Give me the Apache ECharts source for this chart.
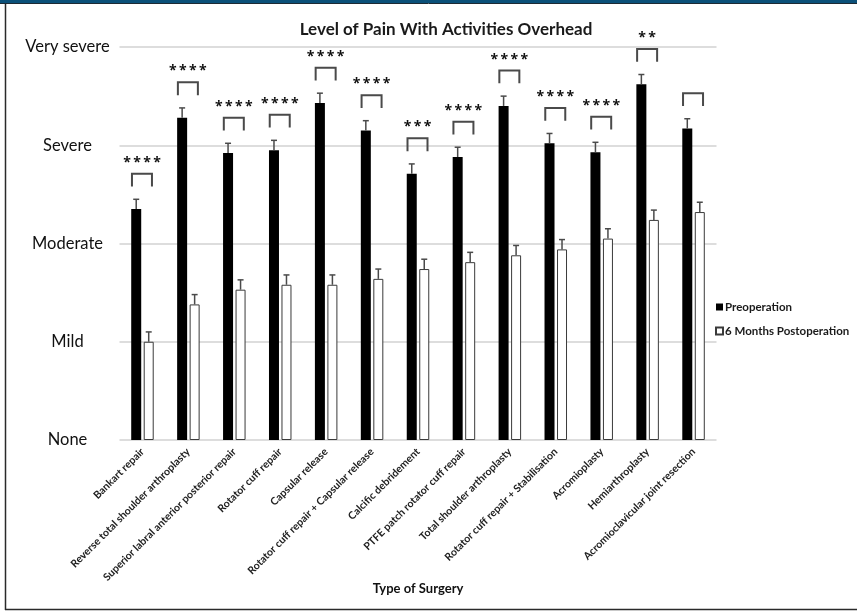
<!DOCTYPE html>
<html>
<head>
<meta charset="utf-8">
<script src="https://cdn.jsdelivr.net/npm/echarts@6/dist/echarts.min.js"></script>
<style>
  html, body { margin: 0; padding: 0; background: #fff; }
  #chart { width: 857px; height: 611px; }
</style>
</head>
<body>
<div id="chart"></div>
<script>
// Surgery types along the x axis
const categories = [
  'Bankart repair',
  'Reverse total shoulder arthroplasty',
  'Superior labral anterior posterior repair',
  'Rotator cuff repair',
  'Capsular release',
  'Rotator cuff repair + Capsular release',
  'Calcific debridement',
  'PTFE patch rotator cuff repair',
  'Total shoulder arthroplasty',
  'Rotator cuff repair + Stabilisation',
  'Acromioplasty',
  'Hemiarthroplasty',
  'Acromioclavicular joint resection'
];

// Pain level scale (0 = None ... 4 = Very severe)
const painLevels = ['None', 'Mild', 'Moderate', 'Severe', 'Very severe'];

// Mean pain scores and their error bars
const preop = [2.35, 3.28, 2.92, 2.95, 3.43, 3.15, 2.71, 2.88, 3.40, 3.02, 2.93, 3.62, 3.17];
const preopErr = [0.10, 0.10, 0.10, 0.10, 0.10, 0.10, 0.10, 0.10, 0.10, 0.10, 0.10, 0.10, 0.10];
const postop = [1.00, 1.38, 1.53, 1.58, 1.58, 1.64, 1.74, 1.81, 1.88, 1.94, 2.05, 2.24, 2.32];
const postopErr = [0.10, 0.10, 0.10, 0.10, 0.10, 0.10, 0.10, 0.10, 0.10, 0.10, 0.10, 0.10, 0.10];

// Significance markers for each pre/post comparison
const significance = ['****', '****', '****', '****', '****', '****', '***', '****', '****', '****', '****', '**', ''];

const BAR_W = 10;
const BAR_OFFSET = 6.25;   // half of bar width + half gap
const GREY = '#4a4a4a';
const STAR_PITCH = 10;

const chart = echarts.init(document.getElementById('chart'), null, { renderer: 'canvas' });

// Error bar: vertical whisker upward from the bar top with a small cap
function errorBarRenderer(values, errs, offset) {
  return function (params, api) {
    const i = api.value(0);
    const top = api.coord([i, values[i] + errs[i]]);
    const base = api.coord([i, values[i]]);
    const x = top[0] + offset;
    return {
      type: 'group',
      children: [
        { type: 'line', shape: { x1: x, y1: base[1], x2: x, y2: top[1] }, style: { stroke: GREY, lineWidth: 1.5 } },
        { type: 'line', shape: { x1: x - 3, y1: top[1], x2: x + 3, y2: top[1] }, style: { stroke: GREY, lineWidth: 1.5 } }
      ]
    };
  };
}

// Bracket with significance stars above each pair of bars
function bracketRenderer(params, api) {
  const i = api.value(0);
  const peak = Math.max(preop[i] + preopErr[i], postop[i] + postopErr[i]);
  const low = api.coord([i, peak + 0.13]);
  const high = api.coord([i, peak + 0.26]);
  const xl = low[0] - 10.5;
  const xr = low[0] + 9.5;
  const children = [
    {
      type: 'polyline',
      shape: { points: [[xl, low[1]], [xl, high[1]], [xr, high[1]], [xr, low[1]]] },
      style: { stroke: GREY, lineWidth: 2, fill: null }
    }
  ];
  const stars = significance[i].split('');
  stars.forEach((s, k) => {
    children.push({
      type: 'text',
      x: low[0] - 0.5 + (k - (stars.length - 1) / 2) * STAR_PITCH,
      y: high[1] - 11,
      style: {
        text: s,
        fill: '#111',
        font: 'bold 14px "Open Sans"',
        textAlign: 'center',
        textVerticalAlign: 'middle'
      }
    });
  });
  return { type: 'group', children: children };
}

const idxData = categories.map((c, i) => [i]);

const option = {
  animation: false,
  backgroundColor: '#fff',
  title: {
    text: 'Level of Pain With Activities Overhead',
    left: 441,
    top: 16,
    textAlign: 'center',
    textStyle: { fontFamily: 'Lato', fontWeight: 'bold', fontSize: 17, color: '#1a1a1a' }
  },
  legend: {
    orient: 'vertical',
    left: 710,
    top: 296,
    itemWidth: 7,
    itemHeight: 7,
    itemGap: 12,
    icon: 'rect',
    data: ['Preoperation', '6 Months Postoperation'],
    textStyle: { fontFamily: 'Lato', fontWeight: 'bold', fontSize: 11.5, color: '#1a1a1a', padding: [0, 0, 0, -3] }
  },
  grid: { left: 119.5, top: 47, width: 597, height: 393, containLabel: false },
  xAxis: {
    type: 'category',
    data: categories,
    name: 'Type of Surgery',
    nameLocation: 'middle',
    nameGap: 142,
    nameMoveOverlap: false,
    nameTextStyle: { fontFamily: 'Lato', fontWeight: 'bold', fontSize: 13, color: '#111' },
    axisLine: { show: false },
    axisTick: { show: false },
    axisLabel: {
      interval: 0,
      rotate: 45,
      margin: 10,
      fontFamily: 'Lato',
      fontWeight: 'bold',
      fontSize: 10.5,
      color: '#222'
    }
  },
  yAxis: {
    type: 'value',
    min: 0,
    max: 4,
    interval: 1,
    axisLine: { show: false },
    axisTick: { show: false },
    splitLine: { lineStyle: { color: '#d2d2d2', width: 1.5 } },
    axisLabel: {
      formatter: v => painLevels[v] || '',
      align: 'center',
      margin: 52,
      fontFamily: 'Lato',
      fontSize: 16.5,
      color: '#111'
    }
  },
  series: [
    {
      name: 'Preoperation',
      type: 'bar',
      data: preop,
      barWidth: BAR_W,
      barGap: '25%',
      itemStyle: { color: '#000', borderColor: '#000', borderWidth: 0 }
    },
    {
      name: '6 Months Postoperation',
      type: 'bar',
      data: postop,
      barWidth: BAR_W,
      barGap: '25%',
      itemStyle: { color: '#fff', borderColor: '#3a3a3a', borderWidth: 1 }
    },
    {
      type: 'custom',
      data: idxData,
      renderItem: errorBarRenderer(preop, preopErr, -BAR_OFFSET),
      z: 5,
      silent: true
    },
    {
      type: 'custom',
      data: idxData,
      renderItem: errorBarRenderer(postop, postopErr, BAR_OFFSET),
      z: 5,
      silent: true
    },
    {
      type: 'custom',
      data: idxData,
      renderItem: bracketRenderer,
      z: 5,
      silent: true
    }
  ],
  graphic: [
    { type: 'rect', shape: { x: 0, y: 0, width: 857, height: 3 }, style: { fill: '#0b5079' } },
    { type: 'line', shape: { x1: 0, y1: 3.5, x2: 857, y2: 3.5 }, style: { stroke: '#1d2a33', lineWidth: 1 } },
    { type: 'line', shape: { x1: 5.5, y1: 4, x2: 5.5, y2: 610 }, style: { stroke: '#2a2a2a', lineWidth: 1.5 } },
    { type: 'line', shape: { x1: 5, y1: 609.5, x2: 857, y2: 609.5 }, style: { stroke: '#2a2a2a', lineWidth: 1.5 } }
  ]
};

chart.setOption(option);
</script>
</body>
</html>
